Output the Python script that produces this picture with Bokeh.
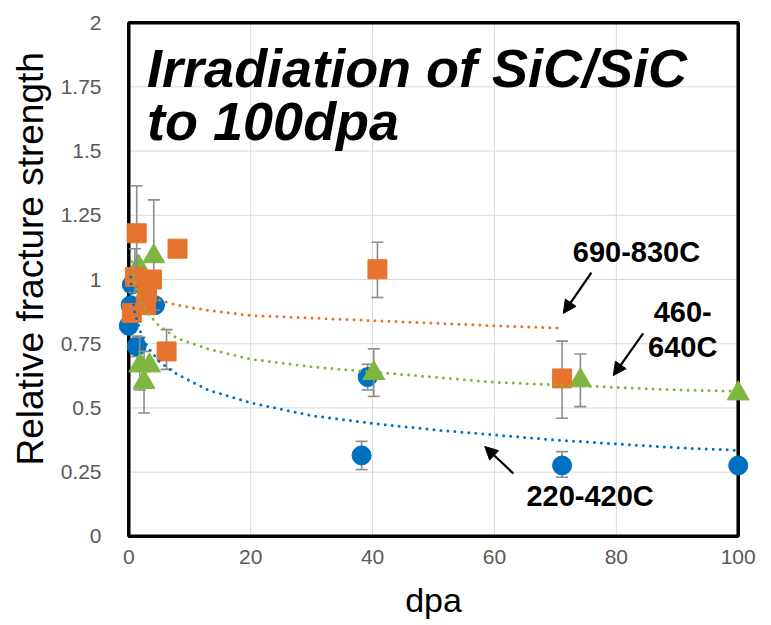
from bokeh.plotting import figure
from bokeh.models import FixedTicker, Arrow, NormalHead, Label, Title
from bokeh.embed import file_html
from bokeh.resources import INLINE

# ---------------- data ----------------
x_ticks = [0, 20, 40, 60, 80, 100]
y_ticks = [0, 0.25, 0.5, 0.75, 1, 1.25, 1.5, 1.75, 2]
y_tick_labels = ["0", "0.25", "0.5", "0.75", "1", "1.25", "1.5", "1.75", "2"]

# 220-420C (blue circles)
blue_x = [0.0, 0.3, 0.5, 1.3, 4.3, 38.2, 39.2, 71.1, 100.0]
blue_y = [0.82, 0.90, 0.98, 0.74, 0.90, 0.315, 0.62, 0.276, 0.276]
blue_err_x = [1.3, 38.2, 39.2, 71.1]
blue_err_lo = [0.70, 0.26, 0.57, 0.23]
blue_err_hi = [0.78, 0.37, 0.67, 0.33]
blue_trend_x = [0.3, 0.5, 1, 2, 3, 5, 8, 13, 20, 30, 40, 50, 60, 70, 80, 90, 100]
blue_trend_y = [1.01, 0.95, 0.87, 0.79, 0.74, 0.68, 0.63, 0.57, 0.52, 0.47, 0.44,
                0.415, 0.395, 0.375, 0.36, 0.345, 0.335]

# 460-640C (green triangles)
green_x = [1.6, 4.1, 1.8, 3.4, 2.5, 40.2, 74.1, 100.0]
green_y = [1.05, 1.09, 0.665, 0.665, 0.60, 0.635, 0.607, 0.556]
green_err_x = [4.1, 1.8, 2.5, 40.2, 74.1]
green_err_lo = [0.88, 0.57, 0.48, 0.545, 0.505]
green_err_hi = [1.31, 0.775, 0.72, 0.73, 0.71]
green_trend_x = [0.5, 1, 2, 3, 5, 8, 13, 20, 30, 40, 50, 60, 70, 80, 90, 100]
green_trend_y = [1.07, 0.99, 0.91, 0.87, 0.82, 0.77, 0.73, 0.69, 0.66, 0.64, 0.62,
                 0.60, 0.59, 0.58, 0.57, 0.565]

# 690-830C (orange squares)
orange_x = [0.5, 1.3, 1.0, 3.8, 3.0, 2.8, 6.2, 8.0, 40.8, 71.1]
orange_y = [0.87, 1.18, 1.01, 1.00, 0.95, 0.90, 0.72, 1.12, 1.04, 0.615]
orange_err_x = [1.3, 1.0, 6.2, 40.8, 71.1]
orange_err_lo = [1.00, 0.95, 0.65, 0.93, 0.46]
orange_err_hi = [1.365, 1.12, 0.805, 1.145, 0.76]
orange_trend_x = [0.5, 1, 2, 3, 5, 8, 13, 20, 30, 40, 50, 60, 71]
orange_trend_y = [1.03, 0.99, 0.96, 0.94, 0.92, 0.90, 0.88, 0.86, 0.85, 0.84, 0.83,
                  0.82, 0.81]

# ---------------- styles ----------------
BLUE = "#0070C0"
GREEN = "#7FB541"
ORANGE = "#E6742F"
ERR = "#8C8C8C"
FONT = "Liberation Sans"
X_MIN, X_MAX = 0, 100
Y_MIN, Y_MAX = 0, 2

# ranges padded slightly so that markers on the box edge are not clipped
p = figure(width=771, height=625, x_range=(-3, 103), y_range=(-0.02, 2.02),
           output_backend="svg", toolbar_location=None,
           min_border_left=109, min_border_right=15,
           min_border_top=17, min_border_bottom=84)
p.background_fill_color = "white"
p.border_fill_color = "white"
p.outline_line_color = None
p.grid.visible = False

p.xaxis.ticker = FixedTicker(ticks=x_ticks)
p.yaxis.ticker = FixedTicker(ticks=y_ticks)
p.yaxis.major_label_overrides = {t: l for t, l in zip(y_ticks, y_tick_labels)}
p.xaxis.major_label_overrides = {t: str(t) for t in x_ticks}
for ax in (p.xaxis, p.yaxis):
    ax.axis_line_color = None
    ax.major_tick_line_color = None
    ax.minor_tick_line_color = None
    ax.major_label_text_font = FONT
    ax.major_label_text_font_size = "21px"
    ax.major_label_text_color = "#595959"
    ax.axis_label_text_font = FONT
    ax.axis_label_text_font_size = "34px"
    ax.axis_label_text_font_style = "normal"
    ax.axis_label_text_color = "black"
p.xaxis.axis_label = "dpa"
p.xaxis.major_label_standoff = 2
p.yaxis.major_label_standoff = 3
p.xaxis.axis_label_standoff = 14

# y-axis title, placed a little above centre like in the original
p.add_layout(Title(text="Relative fracture strength", align="left", offset=76,
                   text_font=FONT, text_font_size="37px", text_font_style="normal",
                   text_color="black", standoff=14), "left")

# gridlines and chart box
p.segment(x0=x_ticks, y0=Y_MIN, x1=x_ticks, y1=Y_MAX, line_color="#D9D9D9", line_width=1)
p.segment(x0=X_MIN, y0=y_ticks, x1=X_MAX, y1=y_ticks, line_color="#D9D9D9", line_width=1)
p.quad(left=X_MIN, right=X_MAX, bottom=Y_MIN, top=Y_MAX, fill_color=None,
       line_color="black", line_width=3.5)


def errbars(ex, lo, hi):
    p.segment(x0=ex, y0=lo, x1=ex, y1=hi, line_color=ERR, line_width=1.6)
    p.scatter(ex, lo, marker="dash", size=12, line_color=ERR, line_width=1.6)
    p.scatter(ex, hi, marker="dash", size=12, line_color=ERR, line_width=1.6)


errbars(blue_err_x, blue_err_lo, blue_err_hi)
p.scatter(blue_x, blue_y, marker="circle", size=19, fill_color=BLUE, line_color=BLUE)
errbars(green_err_x, green_err_lo, green_err_hi)
p.scatter(green_x, green_y, marker="triangle", size=22, fill_color=GREEN, line_color=GREEN)
errbars(orange_err_x, orange_err_lo, orange_err_hi)
p.scatter(orange_x, orange_y, marker="square", size=19, fill_color=ORANGE, line_color=ORANGE)

for tx, ty, c in ((blue_trend_x, blue_trend_y, BLUE),
                  (green_trend_x, green_trend_y, GREEN),
                  (orange_trend_x, orange_trend_y, ORANGE)):
    p.line(tx, ty, line_color=c, line_width=3, line_dash="0 7", line_cap="round")

# ---------------- annotations ----------------
title_lines = [("Irradiation of SiC/SiC", 3.0, 1.823), ("to 100dpa", 3.0, 1.619)]
for txt, tx, ty in title_lines:
    p.add_layout(Label(x=tx, y=ty, text=txt, text_font=FONT, text_font_size="54px",
                       text_font_style="bold italic", text_color="black",
                       text_align="left", text_baseline="alphabetic"))

labels = [("690-830C", 83.3, 1.107), ("460-", 90.9, 0.872), ("640C", 90.9, 0.739),
          ("220-420C", 75.7, 0.156)]
for txt, tx, ty in labels:
    p.add_layout(Label(x=tx, y=ty, text=txt, text_font=FONT, text_font_size="29px",
                       text_font_style="bold", text_color="black",
                       text_align="center", text_baseline="alphabetic"))

arrows = [(75.9, 1.027, 71.3, 0.868), (84.4, 0.79, 79.5, 0.626), (63.1, 0.245, 58.4, 0.35)]
for xs, ys, xe, ye in arrows:
    p.add_layout(Arrow(end=NormalHead(size=13, fill_color="black", line_color="black"),
                       x_start=xs, y_start=ys, x_end=xe, y_end=ye,
                       line_color="black", line_width=2.2))

open("out.html", "w").write(file_html(p, INLINE))
